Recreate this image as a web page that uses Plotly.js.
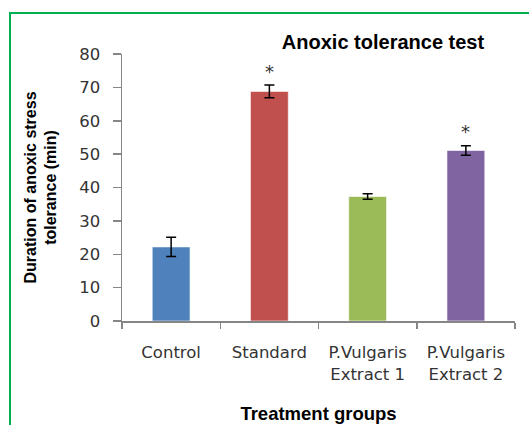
<!DOCTYPE html>
<html>
<head>
<meta charset="utf-8">
<script src="https://cdn.plot.ly/plotly-3.0.1.min.js"></script>
<style>
html,body{margin:0;padding:0;background:#fff;}
#wrap{position:relative;width:529px;height:425px;overflow:hidden;}
#chart{width:529px;height:425px;}
#frame{position:absolute;left:9px;top:12px;width:700px;height:700px;border-left:2px solid #00B050;border-top:2px solid #00B050;pointer-events:none;}
</style>
</head>
<body>
<div id="wrap"><div id="chart"></div><div id="frame"></div></div>
<script>
const categories = ["Control", "Standard", "P.Vulgaris<br>Extract 1", "P.Vulgaris<br>Extract 2"];
const values = [22.2, 68.8, 37.3, 51.1];
const errors = [2.9, 1.9, 0.8, 1.4];
const colors = ["#4F81BD", "#C0504D", "#9BBB59", "#8064A2"];
const significant = [false, true, false, true];
const yTicks = [0, 10, 20, 30, 40, 50, 60, 70, 80];

const trace = {
  type: "bar",
  x: categories,
  y: values,
  width: 0.385,
  marker: {color: colors, line: {color: "rgba(255,255,255,0.6)", width: 1}},
  error_y: {type: "data", array: errors, visible: true, color: "#000000", thickness: 1.5, width: 5}
};

const annotations = [];
categories.forEach((c, i) => {
  if (significant[i]) {
    annotations.push({
      x: c, y: values[i] + errors[i], xref: "x", yref: "y",
      text: "*", showarrow: false, yanchor: "middle", yshift: 14,
      font: {family: "DejaVu Sans", size: 18, color: "#333333"}
    });
  }
});

const layout = {
  width: 529, height: 425,
  margin: {l: 122, r: 14, t: 54, b: 104},
  paper_bgcolor: "#ffffff", plot_bgcolor: "#ffffff",
  showlegend: false,
  title: {
    text: "<b>Anoxic tolerance test</b>",
    x: 0.724, xref: "container", xanchor: "center",
    y: 0.901, yref: "container", yanchor: "middle",
    font: {family: "Liberation Sans", size: 20, color: "#000000"}
  },
  xaxis: {
    type: "category",
    showline: true, linecolor: "#868686", linewidth: 1.5,
    ticks: "outside", tickson: "boundaries", ticklen: 6, tickcolor: "#868686", tickwidth: 1.5,
    ticklabelstandoff: 16,
    tickfont: {family: "DejaVu Sans", size: 16.5, color: "#333333"},
    showgrid: false, zeroline: false,
    title: {text: "<b>Treatment groups</b>", standoff: 24, font: {family: "Liberation Sans", size: 18.5, color: "#000000"}}
  },
  yaxis: {
    range: [0, 80], tickvals: yTicks,
    showline: true, linecolor: "#868686", linewidth: 1.5,
    ticks: "outside", ticklen: 8, tickcolor: "#868686", tickwidth: 1.5,
    tickfont: {family: "DejaVu Sans", size: 16.5, color: "#333333"},
    ticklabelstandoff: 9,
    showgrid: false, zeroline: false,
    title: {text: "<b>Duration of anoxic stress<br>tolerance (min)</b>", standoff: 18, font: {family: "Liberation Sans", size: 16, color: "#000000"}}
  },
  annotations: annotations
};

Plotly.newPlot("chart", [trace], layout, {displayModeBar: false, staticPlot: true});
</script>
</body>
</html>
